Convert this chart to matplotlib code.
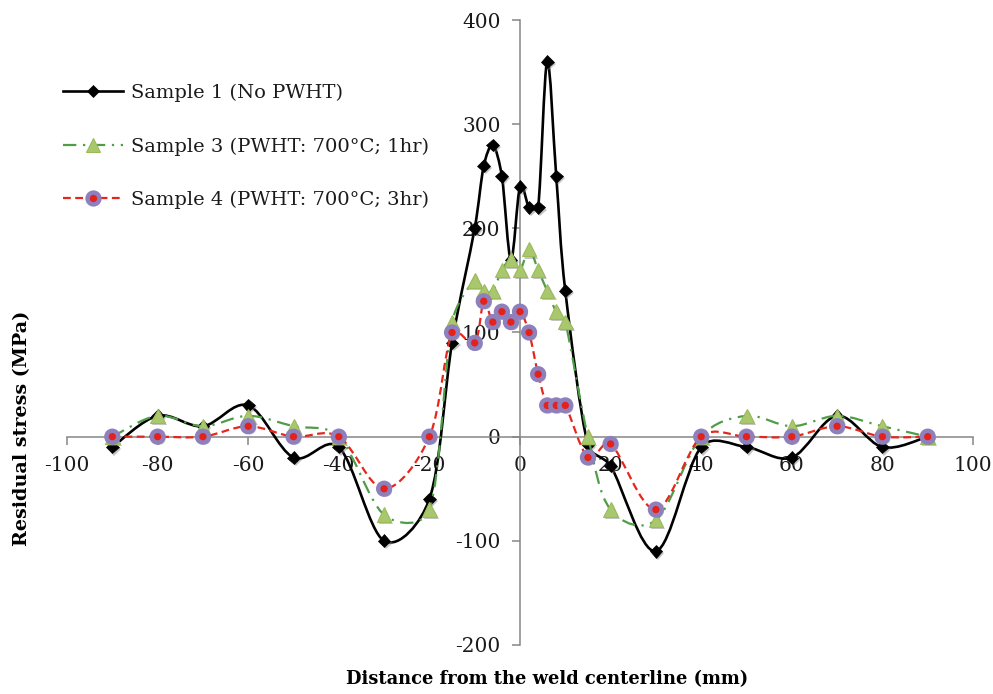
import numpy as np
import matplotlib
matplotlib.use('Agg')
import matplotlib.pyplot as plt
from matplotlib.path import Path
from matplotlib.patches import PathPatch
from matplotlib.lines import Line2D
import matplotlib.patheffects as pe

# distance from weld centerline (mm)
distance = [-90, -80, -70, -60, -50, -40, -30, -20, -15, -10, -8, -6, -4, -2, 0,
            2, 4, 6, 8, 10, 15, 20, 30, 40, 50, 60, 70, 80, 90]

# residual stress (MPa)
sample1 = [-10, 20, 10, 30, -20, -10, -100, -60, 90, 200, 260, 280, 250, 170, 240,
           220, 220, 360, 250, 140, -8, -28, -110, -10, -10, -20, 20, -10, 0]
sample3 = [0, 20, 10, 20, 10, 0, -75, -70, 110, 150, 140, 140, 160, 170, 160,
           180, 160, 140, 120, 110, 0, -70, -80, 0, 20, 10, 20, 10, 0]
sample4 = [0, 0, 0, 10, 0, 0, -50, 0, 100, 90, 130, 110, 120, 110, 120,
           100, 60, 30, 30, 30, -20, -7, -70, 0, 0, 0, 10, 0, 0]

labels = ['Sample 1 (No PWHT)',
          'Sample 3 (PWHT: 700°C; 1hr)',
          'Sample 4 (PWHT: 700°C; 3hr)']

x_ticks = list(range(-100, 101, 20))
y_ticks = list(range(-200, 401, 100))

plt.rcParams['font.family'] = 'DejaVu Serif'
plt.rcParams['axes.unicode_minus'] = False


def smooth_path(ax, xs, ys, cap=0.4):
    # smoothed line through the points (bezier, tangents clipped to the segment length)
    tr = ax.transData
    pts = tr.transform(np.column_stack([xs, ys]).astype(float))
    ext = np.vstack([pts[0], pts, pts[-1]])
    verts = [pts[0]]
    codes = [Path.MOVETO]
    for i in range(len(pts) - 1):
        p0, p1, p2, p3 = ext[i], ext[i + 1], ext[i + 2], ext[i + 3]
        seg = np.hypot(*(p2 - p1))
        d1 = (p2 - p0) / 6
        d2 = (p3 - p1) / 6
        for d in (d1, d2):
            n = np.hypot(*d)
            if n > cap * seg and n > 0:
                d *= cap * seg / n
        verts += [p1 + d1, p2 - d2, p2]
        codes += [Path.CURVE4] * 3
    return Path(tr.inverted().transform(np.array(verts)), codes)


fig = plt.figure(figsize=(9.93, 6.94), dpi=100)
ax = fig.add_axes([67 / 993, 1 - 645 / 694, (973 - 67) / 993, (645 - 20) / 694])
ax.set_xlim(-100, 100)
ax.set_ylim(-200, 400)

shadow = [pe.SimplePatchShadow(offset=(1.5, -1.5), shadow_rgbFace='#808080', alpha=0.45), pe.Normal()]

styles = [
    dict(color='black', ls='-', lw=1.9, marker='D', ms=6.5, mfc='black', mec='black', mew=0.5),
    dict(color='#4F9D47', ls=(0, (6, 3, 1, 3)), lw=1.6, marker='^', ms=10.5, mfc='#A9C86D', mec='#9BBB59', mew=0.8),
    dict(color='#E5261D', ls=(0, (3.5, 2)), lw=1.6, marker='o', ms=8.5, mfc='#E4211B', mec='#8E80BD', mew=3.2),
]

handles = []
for i, (ys, st) in enumerate(zip([sample1, sample3, sample4], styles)):
    patch = PathPatch(smooth_path(ax, distance, ys), fill=False, edgecolor=st['color'],
                      lw=st['lw'], linestyle=st['ls'], zorder=3 + 2 * i, capstyle='butt')
    ax.add_patch(patch)
    ax.plot(distance, ys, ls='none', marker=st['marker'], ms=st['ms'], mfc=st['mfc'],
            mec=st['mec'], mew=st['mew'], zorder=4 + 2 * i, path_effects=shadow)
    handles.append(Line2D([], [], color=st['color'], ls=st['ls'], lw=st['lw'], marker=st['marker'],
                          ms=st['ms'], mfc=st['mfc'], mec=st['mec'], mew=st['mew']))

for side in ['top', 'right']:
    ax.spines[side].set_visible(False)
ax.spines['left'].set_position(('data', 0))
ax.spines['bottom'].set_position(('data', 0))
for side in ['left', 'bottom']:
    ax.spines[side].set_color('#868686')
    ax.spines[side].set_linewidth(1.1)

ax.set_xticks(x_ticks)
ax.set_yticks(y_ticks)
ax.tick_params(direction='out', length=6, width=1.1, color='#868686', labelsize=14.5,
               labelcolor='#1a1a1a')
ax.tick_params(axis='x', pad=8)
ax.tick_params(axis='y', pad=8)

leg = ax.legend(handles, labels, loc='upper left', bbox_to_anchor=(63 / 993, 1 - 84 / 694),
                bbox_transform=fig.transFigure, frameon=False, fontsize=14, handlelength=3.1,
                handletextpad=0.4, labelspacing=1.8, borderpad=0, borderaxespad=0)
for t in leg.get_texts():
    t.set_color('#1a1a1a')

fig.text(547 / 993, 1 - 679 / 694, 'Distance from the weld centerline (mm)', ha='center',
         va='center', fontsize=12.9, fontweight='bold')
fig.text(22 / 993, 1 - 428 / 694, 'Residual stress (MPa)', ha='center', va='center',
         rotation=90, fontsize=13.8, fontweight='bold')

fig.savefig('out.png', dpi=100)
